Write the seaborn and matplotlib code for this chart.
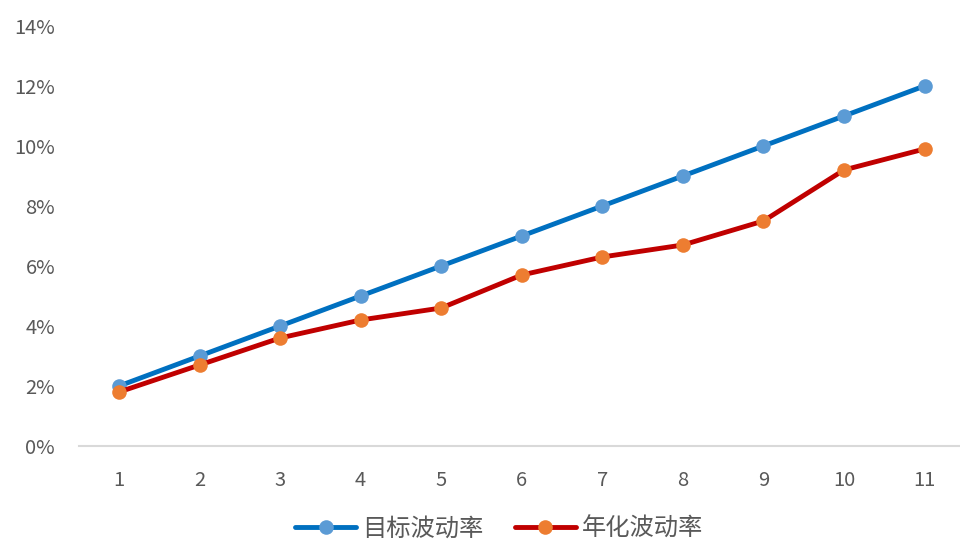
import matplotlib
matplotlib.use("Agg")
import matplotlib.pyplot as plt
import seaborn as sns
import pandas as pd
from matplotlib.lines import Line2D
from matplotlib.ticker import FuncFormatter

sns.set_style("white")
plt.rcParams['font.family'] = ['Noto Sans CJK SC', 'DejaVu Sans']

periods = [1, 2, 3, 4, 5, 6, 7, 8, 9, 10, 11]
target_vol = [0.02, 0.03, 0.04, 0.05, 0.06, 0.07, 0.08, 0.09, 0.10, 0.11, 0.12]
annual_vol = [0.018, 0.027, 0.036, 0.042, 0.046, 0.057, 0.063, 0.067, 0.075, 0.092, 0.099]
series_names = ["目标波动率", "年化波动率"]

fig = plt.figure(figsize=(9.6, 5.52), dpi=100)
ax = fig.add_axes([0.082, 0.192, 0.923, 0.761])

df = pd.DataFrame({"x": periods, "target": target_vol, "annual": annual_vol})

styles = [("target", "#0070C0", "#5B9BD5"), ("annual", "#C00000", "#ED7D31")]
handles = []
for (col, lc, mc), name in zip(styles, series_names):
    sns.lineplot(data=df, x="x", y=col, ax=ax, color=lc, linewidth=3.5,
                 marker="o", markersize=10.5, markerfacecolor=mc,
                 markeredgecolor=mc, markeredgewidth=0)
    handles.append(Line2D([0], [0], color=lc, linewidth=3.5, marker="o",
                          markersize=10.5, markerfacecolor=mc, markeredgecolor=mc,
                          markeredgewidth=0, label=name))

ax.set_xlim(0.5, 11.5)
ax.set_ylim(0, 0.14)
ax.set_xticks(periods)
ax.set_xticklabels([str(p) for p in periods])
ax.set_yticks([0, 0.02, 0.04, 0.06, 0.08, 0.10, 0.12, 0.14])
ax.yaxis.set_major_formatter(FuncFormatter(lambda v, p: f"{v*100:.0f}%"))
ax.set_xlabel("")
ax.set_ylabel("")

for s in ["top", "right", "left"]:
    ax.spines[s].set_visible(False)
ax.spines["bottom"].set_color("#D9D9D9")
ax.spines["bottom"].set_linewidth(1.5)
ax.tick_params(axis="both", length=0, labelsize=14.5, colors="#595959")
ax.tick_params(axis="x", pad=17)
ax.tick_params(axis="y", pad=17)

leg = fig.legend(handles=handles, loc="center", bbox_to_anchor=(0.52, 0.042),
                 ncol=2, frameon=False, fontsize=17.5, handlelength=2.5,
                 columnspacing=1.3, handletextpad=0.25)
for t in leg.get_texts():
    t.set_color("#595959")

fig.savefig("out.png", dpi=100)
